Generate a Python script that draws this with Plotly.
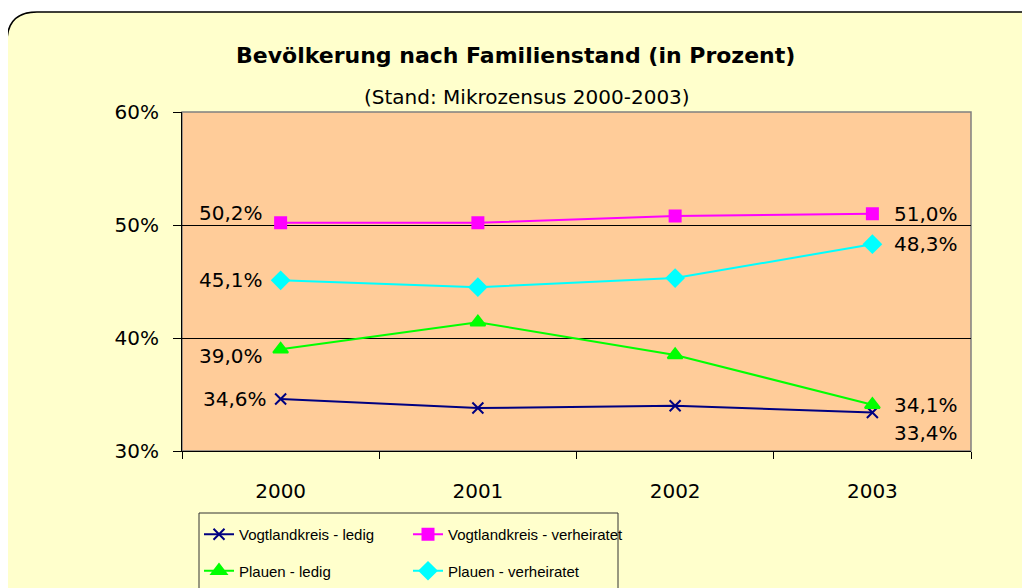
import plotly.graph_objects as go

years = ["2000", "2001", "2002", "2003"]
series_names = ["Vogtlandkreis - ledig", "Vogtlandkreis - verheiratet", "Plauen - ledig", "Plauen - verheiratet"]
vogt_ledig = [34.6, 33.8, 34.0, 33.4]
vogt_verh = [50.2, 50.2, 50.8, 51.0]
plauen_ledig = [39.0, 41.4, 38.5, 34.1]
plauen_verh = [45.1, 44.5, 45.3, 48.3]
y_ticks = [30, 40, 50, 60]
y_tick_text = ["30%", "40%", "50%", "60%"]

colors = ["#000080", "#FF00FF", "#00FF00", "#00FFFF"]
symbols = ["x-thin", "square", "triangle-up", "diamond"]
sizes = [11, 11, 13, 13]
legend_ids = ["legend", "legend2", "legend", "legend2"]
all_values = [vogt_ledig, vogt_verh, plauen_ledig, plauen_verh]

# label offsets (px) for first / last point of each series
first_shift = [(-12, 0), (-16, 10), (-16, -7), (-16, 0)]
last_shift = [(20, -20), (20, 0), (20, 0), (20, 0)]

OFF = 8  # page body margin
W, H = 1030 - OFF, 588 - OFF
L, R, T, B = 182, 971, 112, 451  # plot area in reference pixels

def px(x):
    return (x - L) / (R - L)

def py(y):
    return (B - y) / (B - T)

fig = go.Figure()
for name, vals, c, s, sz, lg in zip(series_names, all_values, colors, symbols, sizes, legend_ids):
    fig.add_trace(go.Scatter(
        x=years, y=vals, name=name, mode="lines+markers", legend=lg, legendgroup=name,
        line=dict(color=c, width=2),
        marker=dict(symbol=s, size=sz, color=c, line=dict(color=c, width=2)),
    ))

def fmt(v):
    return f"{v:.1f}".replace(".", ",") + "%"

label_font = dict(size=20, color="#000")
annos = []
last = len(years) - 1
for vals, fs, ls in zip(all_values, first_shift, last_shift):
    annos.append(dict(x=0, y=vals[0], text=fmt(vals[0]), showarrow=False,
                      xanchor="right", yanchor="middle", xshift=fs[0], yshift=fs[1],
                      font=label_font))
    annos.append(dict(x=last, y=vals[-1], text=fmt(vals[-1]), showarrow=False,
                      xanchor="left", yanchor="middle", xshift=ls[0], yshift=ls[1],
                      font=label_font))

annos.append(dict(x=px(515), y=py(56), xref="paper", yref="paper", showarrow=False,
                  text="<b>Bevölkerung nach Familienstand (in Prozent)</b>",
                  font=dict(size=22, color="#000"), xanchor="center", yanchor="middle"))
annos.append(dict(x=px(527), y=py(97), xref="paper", yref="paper", showarrow=False,
                  text="(Stand: Mikrozensus 2000-2003)",
                  font=dict(size=20, color="#000"), xanchor="center", yanchor="middle"))

# rounded background box
x0, y0, x1, y1, r = 7, 12, 1060, 620, 30
path = (f"M {px(x0)},{py(y0 + r)} Q {px(x0)},{py(y0)} {px(x0 + r)},{py(y0)} "
        f"L {px(x1 - r)},{py(y0)} Q {px(x1)},{py(y0)} {px(x1)},{py(y0 + r)} "
        f"L {px(x1)},{py(y1)} L {px(x0)},{py(y1)} Z")

legend_font = dict(family="Liberation Sans, Arial, sans-serif", size=15, color="#000")

fig.update_layout(
    width=W, height=H,
    margin=dict(l=L - OFF, r=W - (R - OFF), t=T - OFF, b=H - (B - OFF), autoexpand=False),
    paper_bgcolor="white",
    plot_bgcolor="#FFCC99",
    font=dict(family="DejaVu Sans, Verdana, sans-serif", size=20, color="#000"),
    showlegend=True,
    legend=dict(x=px(199), y=py(518), xanchor="left", yanchor="top",
                bgcolor="rgba(0,0,0,0)", borderwidth=0, tracegroupgap=14,
                font=legend_font, itemwidth=30),
    legend2=dict(x=px(408), y=py(518), xanchor="left", yanchor="top",
                 bgcolor="rgba(0,0,0,0)", borderwidth=0, tracegroupgap=14,
                 font=legend_font, itemwidth=30),
    annotations=annos,
    shapes=[
        dict(type="path", path=path, xref="paper", yref="paper", layer="below",
             fillcolor="#FFFFCC", line=dict(color="#000", width=1.5)),
        dict(type="rect", x0=0, x1=1, y0=0, y1=1, xref="paper", yref="paper",
             fillcolor="#FFCC99", line=dict(color="#808080", width=1.5), layer="below"),
        dict(type="rect", x0=px(199), x1=px(618), y0=py(513), y1=py(640), xref="paper", yref="paper",
             fillcolor="rgba(0,0,0,0)", line=dict(color="#333", width=1), layer="above"),
    ],
)
fig.update_xaxes(type="category", range=[-0.5, 3.5], showgrid=False,
                 showline=True, linecolor="#000", linewidth=1,
                 ticks="outside", tickson="boundaries", ticklen=7, tickcolor="#000",
                 ticklabelstandoff=22, tickfont=dict(size=20))
fig.update_yaxes(range=[30, 60], tickvals=y_ticks, ticktext=y_tick_text,
                 showgrid=True, gridcolor="#000", gridwidth=1,
                 showline=True, linecolor="#000", linewidth=1,
                 ticks="outside", ticklen=8, tickcolor="#000", ticklabelstandoff=10,
                 tickfont=dict(size=20), zeroline=False)

fig.write_html("out.html")
